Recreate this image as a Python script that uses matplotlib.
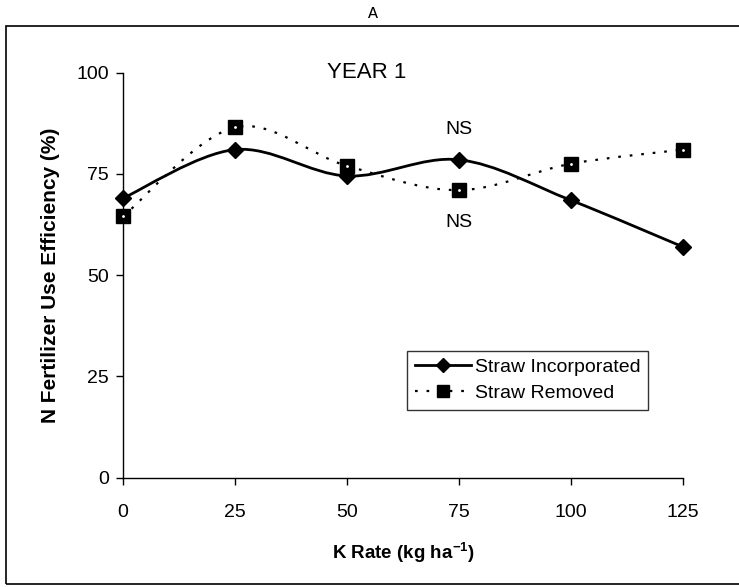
import numpy as np
import matplotlib
matplotlib.use("Agg")
import matplotlib.pyplot as plt
from matplotlib.path import Path
from matplotlib.patches import PathPatch, Rectangle
from matplotlib.lines import Line2D

# Datos
k_rate = [0, 25, 50, 75, 100, 125]
straw_incorporated = [69, 81, 74.5, 78.5, 68.5, 57]
straw_removed = [64.5, 86.5, 77, 71, 77.5, 81]

plt.rcParams['font.family'] = ['Liberation Sans', 'DejaVu Sans']


def curva_suave(x, y):
    # Curva suavizada tipo Excel (Bezier cubica con tension 1/6)
    x = np.asarray(x, float)
    y = np.asarray(y, float)
    pts = np.column_stack([x, y])
    verts = [pts[0]]
    codes = [Path.MOVETO]
    n = len(pts)
    for i in range(n - 1):
        p0 = pts[i - 1] if i > 0 else pts[i]
        p1 = pts[i]
        p2 = pts[i + 1]
        p3 = pts[i + 2] if i + 2 < n else pts[i + 1]
        c1 = p1 + (p2 - p0) / 6.0
        c2 = p2 - (p3 - p1) / 6.0
        verts += [c1, c2, p2]
        codes += [Path.CURVE4] * 3
    return Path(verts, codes)


fig = plt.figure(figsize=(7.39, 5.87), dpi=100)
ax = fig.add_axes([0.1664, 0.1862, 0.7576, 0.6900])

# Lineas suavizadas
ax.add_patch(PathPatch(curva_suave(k_rate, straw_incorporated), fill=False,
                       edgecolor='black', lw=2.0, zorder=2))
ax.add_patch(PathPatch(curva_suave(k_rate, straw_removed), fill=False,
                       edgecolor='black', lw=1.6, linestyle=(0, (1.2, 4)), zorder=2))

# Marcadores
ax.plot(k_rate, straw_incorporated, linestyle='none', marker='D', ms=8,
        color='black', zorder=3, clip_on=False)
ax.plot(k_rate, straw_removed, linestyle='none', marker='s', ms=9.5,
        color='black', zorder=3, clip_on=False)
ax.plot(k_rate, straw_removed, linestyle='none', marker='.', ms=2,
        color='white', zorder=4, clip_on=False)

ax.set_xlim(0, 125)
ax.set_ylim(0, 100)
ax.set_xticks(k_rate)
ax.set_yticks([0, 25, 50, 75, 100])
ax.tick_params(direction='out', length=5, width=1, labelsize=14)
ax.tick_params(axis='x', pad=14)
ax.tick_params(axis='y', pad=5)
for lado in ['top', 'right']:
    ax.spines[lado].set_visible(False)
for lado in ['left', 'bottom']:
    ax.spines[lado].set_linewidth(1)

ax.set_xlabel('K Rate (kg ha$^{\\mathregular{-1}}$)', fontsize=13.5, fontweight='bold', labelpad=14)
ax.set_ylabel('N Fertilizer Use Efficiency (%)', fontsize=15, fontweight='bold', labelpad=12)

ax.text(54.5, 100, 'YEAR 1', fontsize=16, ha='center', va='center')
ax.text(75, 86, 'NS', fontsize=14, ha='center', va='center')
ax.text(75, 63, 'NS', fontsize=14, ha='center', va='center')

# Leyenda
handles = [
    Line2D([], [], color='black', lw=2.0, marker='D', ms=7),
    Line2D([], [], color='black', lw=1.6, linestyle=(0, (1.2, 4)), marker='s', ms=8),
]
leg = ax.legend(handles, ['Straw Incorporated', 'Straw Removed'],
                loc='upper left', bbox_to_anchor=(0.49, 0.338),
                fontsize=14, frameon=True, fancybox=False, handlelength=2.9,
                handletextpad=0.2, borderpad=0.4, labelspacing=0.45)
leg.get_frame().set_edgecolor('black')
leg.get_frame().set_linewidth(1)

# Marco exterior y letra del panel
fig.patches.append(Rectangle((0.008, 0.005), 1.2, 0.95, transform=fig.transFigure,
                             fill=False, edgecolor='black', lw=1.2))
fig.text(0.505, 0.977, 'A', fontsize=12, family='Liberation Mono',
         ha='center', va='center')

plt.savefig('out.png', dpi=100)
